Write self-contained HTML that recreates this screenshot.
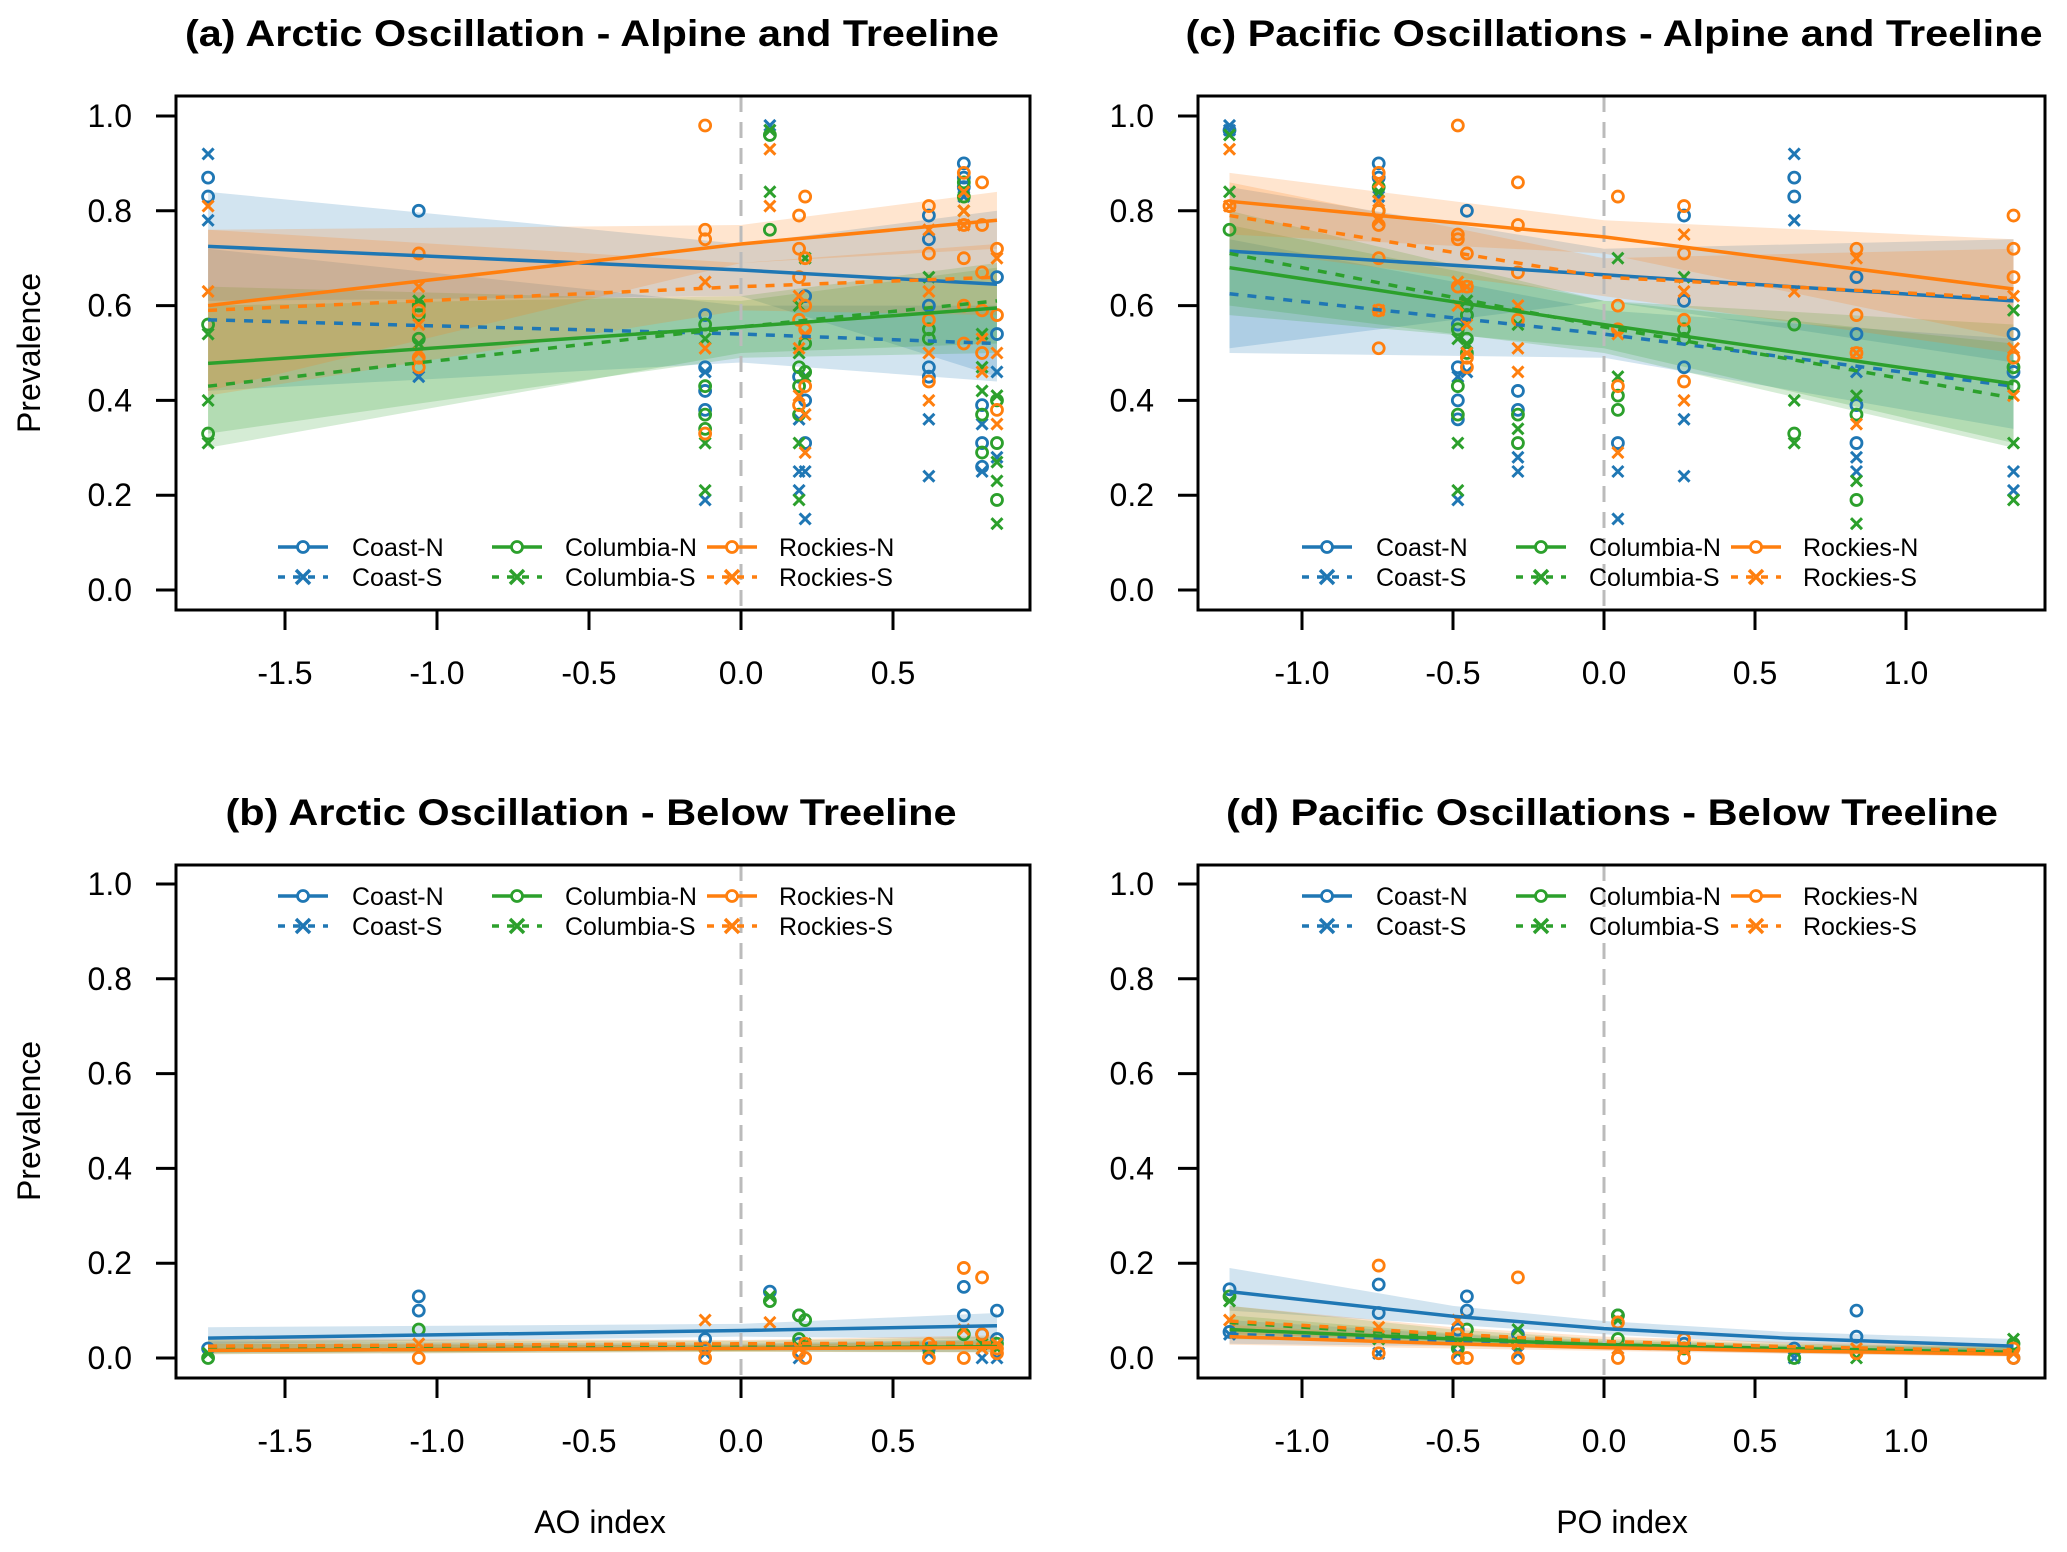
<!DOCTYPE html>
<html><head><meta charset="utf-8"><style>
html,body{margin:0;padding:0;background:#fff;}
svg{display:block;font-family:"Liberation Sans Narrow","Liberation Sans",sans-serif;}
</style></head><body>
<svg id="chart" width="2067" height="1552" viewBox="0 0 2067 1552" xmlns="http://www.w3.org/2000/svg"></svg>
<script>
const seriesNames = ["Coast-N","Coast-S","Columbia-N","Columbia-S","Rockies-N","Rockies-S"];
const seriesColors = ["#1f77b4","#1f77b4","#2ca02c","#2ca02c","#ff7f0e","#ff7f0e"];
const aoUnique = [-1.753,-1.06,-0.118,0.095,0.191,0.211,0.618,0.733,0.793,0.842];
const poUnique = [-1.24,-0.746,-0.484,-0.454,-0.285,0.046,0.265,0.630,0.836,1.356];
const yTicks = [0,0.2,0.4,0.6,0.8,1.0];
const yTickLabels = ["0.0","0.2","0.4","0.6","0.8","1.0"];
const aoTicks = [-1.5,-1.0,-0.5,0.0,0.5];
const aoTickLabels = ["-1.5","-1.0","-0.5","0.0","0.5"];
const poTicks = [-1.0,-0.5,0.0,0.5,1.0];
const poTickLabels = ["-1.0","-0.5","0.0","0.5","1.0"];

// Panel (a) fits at x = aFitX
const aFitX = [-1.753,0,0.842];
const aFit = [[0.725,0.675,0.645],[0.57,0.54,0.52],[0.478,0.555,0.595],[0.43,0.555,0.61],[0.60,0.73,0.78],[0.59,0.64,0.66]];
const aLo = [[0.61,0.62,0.45],[0.42,0.48,0.44],[0.33,0.49,0.50],[0.30,0.50,0.52],[0.42,0.69,0.72],[0.41,0.59,0.58]];
const aHi = [[0.84,0.73,0.80],[0.72,0.60,0.60],[0.64,0.61,0.68],[0.60,0.62,0.69],[0.76,0.77,0.84],[0.76,0.69,0.73]];
const aPts = [
 [[0,.87],[0,.83],[1,.80],[2,.58],[2,.47],[2,.42],[2,.38],[4,.45],[5,.62],[5,.40],[5,.31],[6,.79],[6,.74],[6,.60],[6,.47],[6,.45],[7,.90],[7,.87],[7,.85],[8,.39],[8,.31],[8,.26],[9,.66],[9,.54]],
 [[0,.92],[0,.78],[1,.45],[2,.46],[2,.19],[3,.98],[3,.97],[4,.36],[4,.25],[4,.21],[5,.25],[5,.15],[6,.36],[6,.24],[7,.83],[8,.35],[8,.25],[9,.46],[9,.28]],
 [[0,.56],[0,.33],[1,.60],[1,.58],[1,.53],[2,.56],[2,.43],[2,.37],[2,.34],[3,.96],[3,.76],[4,.47],[4,.43],[4,.37],[5,.46],[5,.52],[6,.55],[6,.53],[7,.86],[7,.83],[8,.37],[8,.29],[9,.40],[9,.31],[9,.19]],
 [[0,.54],[0,.40],[0,.31],[1,.61],[1,.52],[2,.53],[2,.31],[2,.21],[3,.97],[3,.84],[4,.60],[4,.50],[4,.31],[4,.19],[5,.70],[5,.45],[6,.66],[7,.84],[7,.80],[8,.54],[8,.47],[8,.42],[9,.41],[9,.27],[9,.23],[9,.14]],
 [[1,.71],[1,.59],[1,.49],[1,.47],[2,.98],[2,.76],[2,.74],[2,.33],[4,.79],[4,.72],[4,.66],[4,.57],[4,.39],[5,.83],[5,.70],[5,.60],[5,.55],[5,.43],[6,.81],[6,.71],[6,.57],[6,.44],[7,.88],[7,.77],[7,.70],[7,.60],[7,.52],[8,.86],[8,.77],[8,.67],[8,.59],[8,.50],[9,.72],[9,.58],[9,.38]],
 [[0,.81],[0,.63],[1,.64],[1,.56],[1,.50],[2,.65],[2,.51],[3,.93],[3,.81],[4,.62],[4,.51],[4,.41],[5,.54],[5,.37],[5,.29],[6,.76],[6,.63],[6,.50],[6,.40],[7,.84],[7,.80],[7,.77],[8,.53],[8,.46],[9,.70],[9,.50],[9,.35]]
];

// Panel (c)
const cFitX = [-1.24,0,1.356];
const cFit = [[0.715,0.665,0.61],[0.625,0.54,0.43],[0.68,0.56,0.435],[0.71,0.555,0.405],[0.82,0.745,0.635],[0.79,0.66,0.615]];
const cLo = [[0.51,0.61,0.48],[0.50,0.49,0.34],[0.58,0.51,0.31],[0.60,0.50,0.30],[0.75,0.71,0.53],[0.72,0.62,0.50]];
const cHi = [[0.85,0.72,0.74],[0.74,0.59,0.53],[0.77,0.61,0.56],[0.80,0.61,0.52],[0.88,0.78,0.74],[0.86,0.70,0.72]];
const cPts = [
 [[0,.97],[1,.90],[1,.87],[2,.56],[2,.47],[2,.40],[2,.36],[3,.80],[3,.58],[4,.42],[4,.38],[5,.31],[6,.79],[6,.61],[6,.47],[7,.87],[7,.83],[8,.66],[8,.54],[8,.39],[8,.31],[9,.54],[9,.46]],
 [[0,.98],[0,.97],[1,.83],[2,.19],[2,.45],[3,.46],[4,.28],[4,.25],[5,.25],[5,.15],[6,.36],[6,.24],[7,.92],[7,.78],[8,.46],[8,.28],[8,.25],[9,.25],[9,.21]],
 [[0,.76],[1,.85],[1,.80],[2,.55],[2,.43],[2,.37],[3,.60],[3,.58],[3,.53],[3,.50],[4,.37],[4,.31],[5,.41],[5,.38],[6,.55],[6,.53],[7,.56],[7,.33],[8,.37],[8,.19],[9,.47],[9,.43]],
 [[0,.84],[0,.96],[1,.84],[2,.53],[2,.31],[2,.21],[3,.61],[3,.52],[4,.56],[4,.34],[5,.70],[5,.45],[6,.66],[7,.40],[7,.31],[8,.41],[8,.23],[8,.14],[9,.59],[9,.31],[9,.19]],
 [[0,.81],[1,.88],[1,.80],[1,.77],[1,.70],[1,.59],[1,.51],[2,.98],[2,.75],[2,.74],[2,.64],[3,.71],[3,.64],[3,.49],[3,.47],[4,.86],[4,.77],[4,.67],[4,.57],[5,.83],[5,.60],[5,.55],[5,.43],[6,.81],[6,.71],[6,.57],[6,.44],[8,.72],[8,.58],[8,.50],[9,.79],[9,.72],[9,.66],[9,.49]],
 [[0,.93],[0,.81],[1,.86],[1,.82],[1,.78],[1,.59],[2,.65],[2,.60],[3,.64],[3,.56],[3,.50],[4,.60],[4,.51],[4,.46],[5,.54],[5,.29],[6,.75],[6,.63],[6,.40],[7,.63],[8,.70],[8,.50],[8,.35],[9,.62],[9,.51],[9,.41]]
];

// Panel (b)
const bFitX = [-1.753,0,0.842];
const bFit = [[0.042,0.058,0.068],[0.02,0.022,0.024],[0.016,0.02,0.024],[0.022,0.028,0.03],[0.016,0.02,0.022],[0.025,0.03,0.032]];
const bLo = [[0.03,0.045,0.04],[0.01,0.015,0.012],[0.008,0.013,0.012],[0.012,0.02,0.018],[0.008,0.013,0.012],[0.014,0.022,0.02]];
const bHi = [[0.065,0.072,0.095],[0.035,0.03,0.04],[0.03,0.027,0.038],[0.038,0.036,0.045],[0.03,0.027,0.035],[0.042,0.038,0.048]];
const bPts = [
 [[0,.02],[1,.13],[1,.10],[2,.04],[3,.14],[4,.09],[4,.03],[6,.02],[7,.15],[7,.09],[8,.05],[9,.10],[9,.04]],
 [[0,.01],[2,.01],[4,.0],[6,.01],[8,.0],[9,.0]],
 [[0,.0],[1,.06],[2,.02],[3,.12],[4,.09],[4,.04],[5,.08],[7,.05],[9,.03]],
 [[0,.01],[3,.13],[5,.03],[6,.02],[8,.03],[9,.02]],
 [[1,.0],[2,.0],[2,.02],[4,.01],[5,.0],[5,.03],[6,.03],[6,.0],[7,.19],[7,.0],[8,.17],[8,.05],[9,.01],[9,.02]],
 [[1,.03],[2,.08],[3,.075],[4,.02],[7,.06],[8,.02],[9,.03]]
];

// Panel (d)
const dFitX = [-1.24,-0.5,0,0.6,1.356];
const dFit = [[0.14,0.088,0.062,0.042,0.025],[0.05,0.035,0.025,0.017,0.01],[0.06,0.04,0.028,0.02,0.012],[0.075,0.045,0.03,0.02,0.012],[0.045,0.03,0.022,0.015,0.008],[0.078,0.05,0.035,0.024,0.015]];
const dLo = [[0.10,0.07,0.05,0.03,0.012],[0.03,0.025,0.018,0.01,0.004],[0.04,0.03,0.02,0.013,0.005],[0.05,0.034,0.022,0.013,0.005],[0.028,0.02,0.015,0.009,0.003],[0.05,0.038,0.027,0.016,0.007]];
const dHi = [[0.19,0.11,0.078,0.055,0.04],[0.08,0.05,0.033,0.025,0.02],[0.09,0.052,0.036,0.028,0.022],[0.11,0.06,0.04,0.03,0.024],[0.07,0.042,0.03,0.022,0.016],[0.11,0.065,0.045,0.034,0.028]];
const dPts = [
 [[0,.145],[0,.055],[1,.155],[1,.095],[2,.06],[3,.13],[3,.10],[4,.05],[5,.09],[6,.03],[7,.02],[8,.10],[8,.045],[9,.0]],
 [[0,.05],[1,.01],[2,.01],[4,.01],[5,.02],[7,.0],[9,.01]],
 [[0,.13],[2,.02],[3,.06],[4,.03],[5,.09],[5,.04],[6,.02],[7,.0],[9,.03]],
 [[0,.12],[1,.04],[2,.03],[4,.06],[5,.08],[8,.0],[9,.04]],
 [[1,.195],[1,.01],[2,.0],[2,.05],[3,.0],[4,.17],[4,.0],[5,.075],[5,.0],[6,.04],[6,.0],[8,.01],[9,.02],[9,.0]],
 [[0,.08],[1,.065],[2,.08],[3,.04],[4,.03],[5,.02],[6,.02],[8,.02],[9,.01]]
];

const NS = "http://www.w3.org/2000/svg";
const svg = document.getElementById('chart');
function mk(tag, attrs, parent){const e=document.createElementNS(NS,tag);for(const k in attrs)e.setAttribute(k,attrs[k]);(parent||svg).appendChild(e);return e;}

function panel(cfg){
  const g = mk('g',{});
  
  
  const L=cfg.left,R=cfg.right,T=cfg.top,B=cfg.bottom;
  const xs = v => cfg.x0px + v*cfg.xUnit;
  const ys = v => cfg.y0px - v*(cfg.y0px-cfg.y1px);
  // bands
  for(let s=0;s<6;s++){
    let d='';
    cfg.fitX.forEach((x,i)=>{d+=(i?'L':'M')+xs(x)+' '+ys(cfg.hi[s][i]);});
    for(let i=cfg.fitX.length-1;i>=0;i--) d+='L'+xs(cfg.fitX[i])+' '+ys(cfg.lo[s][i]);
    const p=mk('path',{d:d+'Z',fill:seriesColors[s],'fill-opacity':0.2,stroke:'none'},g);
    
    
  }
  // zero line
  const zl=mk('line',{x1:xs(0),x2:xs(0),y1:T,y2:B,stroke:'#bbb','stroke-width':3,'stroke-dasharray':'16,10'},g);
  
  
  // points
  for(let s=0;s<6;s++){
    cfg.pts[s].forEach(pt=>{
      const px=xs(cfg.unique[pt[0]]), py=ys(pt[1]);
      let m;
      if(s%2===0){
        m=mk('circle',{cx:px,cy:py,r:5.5,fill:'none',stroke:seriesColors[s],'stroke-width':2.8},g);
      } else {
        m=mk('path',{d:`M${px-5.5} ${py-5.5}L${px+5.5} ${py+5.5}M${px-5.5} ${py+5.5}L${px+5.5} ${py-5.5}`,stroke:seriesColors[s],'stroke-width':3,fill:'none'},g);
      }
      
      
    });
  }
  // fit lines
  for(let s=0;s<6;s++){
    const pts=cfg.fitX.map((x,i)=>xs(x)+','+ys(cfg.fit[s][i])).join(' ');
    const l=mk('polyline',{points:pts,fill:'none',stroke:seriesColors[s],'stroke-width':3.5,'stroke-dasharray':s%2?'9,9':'none'},g);
    
    
  }
  // box
  const bx=mk('rect',{x:L,y:T,width:R-L,height:B-T,fill:'none',stroke:'#000','stroke-width':3},g);
  
  
  // y axis
  yTicks.forEach((v,i)=>{
    mk('line',{x1:L-20,x2:L,y1:ys(v),y2:ys(v),stroke:'#000','stroke-width':3},g);
    const t=mk('text',{x:L-44,y:ys(v)+11,'text-anchor':'end','font-size':32},g);
    t.textContent=yTickLabels[i];
    
    
  });
  // x axis
  cfg.ticks.forEach((v,i)=>{
    mk('line',{x1:xs(v),x2:xs(v),y1:B,y2:B+20,stroke:'#000','stroke-width':3},g);
    const t=mk('text',{x:xs(v),y:B+74,'text-anchor':'middle','font-size':32},g);
    t.textContent=cfg.tickLabels[i];
    
    
  });
  // title
  const tt=mk('text',{x:cfg.titleX,y:cfg.titleY,'text-anchor':'middle','font-size':37,'font-weight':'bold',textLength:cfg.titleW,lengthAdjust:'spacingAndGlyphs'},g);
  tt.textContent=cfg.title;
  
  
  // legend
  const cols=[[cfg.legX,cfg.legX+50,cfg.legX+74],[cfg.legX+214,cfg.legX+264,cfg.legX+287],[cfg.legX+429,cfg.legX+479,cfg.legX+501]];
  for(let s=0;s<6;s++){
    const c=cols[Math.floor(s/2)], y=cfg.legY+(s%2)*30;
    const lg=mk('g',{},g);
    
    
    mk('line',{x1:c[0],x2:c[1],y1:y,y2:y,stroke:seriesColors[s],'stroke-width':3.5,'stroke-dasharray':s%2?'7,8':'none'},lg);
    const mx=(c[0]+c[1])/2;
    if(s%2===0) mk('circle',{cx:mx,cy:y,r:5.5,fill:'#fff',stroke:seriesColors[s],'stroke-width':2.8},lg);
    else mk('path',{d:`M${mx-7} ${y-7}L${mx+7} ${y+7}M${mx-7} ${y+7}L${mx+7} ${y-7}`,stroke:seriesColors[s],'stroke-width':3.5},lg);
    const t=mk('text',{x:c[2],y:y+9,'font-size':25},lg);
    t.textContent=seriesNames[s];
  }
}

const aoX = {x0px:741,xUnit:304,left:176,right:1030,unique:aoUnique,ticks:aoTicks,tickLabels:aoTickLabels};
const poX = {x0px:1604,xUnit:302,left:1198,right:2045,unique:poUnique,ticks:poTicks,tickLabels:poTickLabels};
const topY = {top:96,bottom:610,y1px:116,y0px:590};
const botY = {top:865,bottom:1378,y1px:884,y0px:1358};

panel(Object.assign({name:'panel-a',title:'(a) Arctic Oscillation - Alpine and Treeline',titleX:592,titleY:46,titleW:814,fitX:aFitX,fit:aFit,lo:aLo,hi:aHi,pts:aPts,legX:278,legY:547},aoX,topY));
panel(Object.assign({name:'panel-c',title:'(c) Pacific Oscillations - Alpine and Treeline',titleX:1614,titleY:46,titleW:857,fitX:cFitX,fit:cFit,lo:cLo,hi:cHi,pts:cPts,legX:1302,legY:547},poX,topY));
panel(Object.assign({name:'panel-b',title:'(b) Arctic Oscillation - Below Treeline',titleX:591,titleY:825,titleW:731,fitX:bFitX,fit:bFit,lo:bLo,hi:bHi,pts:bPts,legX:278,legY:896},aoX,botY));
panel(Object.assign({name:'panel-d',title:'(d) Pacific Oscillations - Below Treeline',titleX:1612,titleY:825,titleW:772,fitX:dFitX,fit:dFit,lo:dLo,hi:dHi,pts:dPts,legX:1302,legY:896},poX,botY));

[[600,'AO index','x-axis-title-ao'],[1622,'PO index','x-axis-title-po']].forEach(a=>{
  const t=mk('text',{x:a[0],y:1533,'text-anchor':'middle','font-size':32});
  t.textContent=a[1];
  
  
});
[353,1121].forEach(cy=>{
  const t=mk('text',{x:0,y:0,'text-anchor':'middle','font-size':32,transform:`translate(40,${cy}) rotate(-90)`});
  t.textContent='Prevalence';
  
  
});
</script>
</body></html>
